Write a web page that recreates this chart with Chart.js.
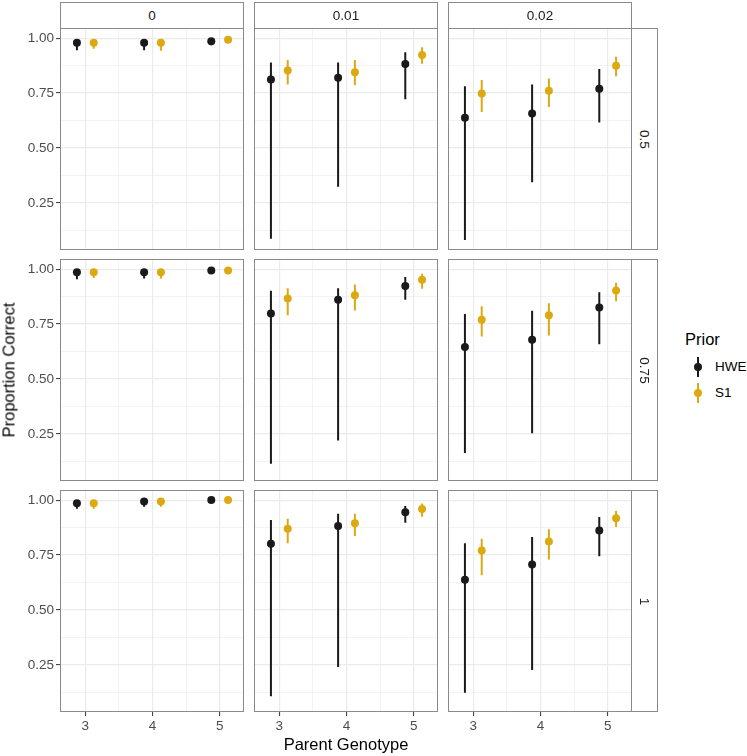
<!DOCTYPE html>
<html>
<head>
<meta charset="utf-8">
<script src="https://cdn.jsdelivr.net/npm/chart.js@4.4.1/dist/chart.umd.min.js"></script>
<style>
    body { margin: 0; background: #fff; font-family: "Liberation Sans", Arial, sans-serif; }
    #wrap { position: relative; width: 747px; height: 756px; background: #fff; overflow: hidden; }
    canvas { position: absolute; }
    .strip { position: absolute; box-sizing: border-box; border: 1px solid #8a8a8a; background: #fff;
             color: #1a1a1a; font-size: 13.5px; display: flex; align-items: center; justify-content: center; }
    .strip span.rot { transform: rotate(90deg); white-space: nowrap; }
    .label { position: absolute; white-space: nowrap; color: #000; }
</style>
</head>
<body>
<div id="wrap"></div>
<script>
// facet labels
const errorRates = ["0", "0.01", "0.02"];   // columns
const depthLabels = ["0.5", "0.75", "1"];   // rows
const genotypes = [3, 4, 5];
const yTickLabels = ["0.25", "0.50", "0.75", "1.00"];

// [row][col] -> values for genotypes 3, 4, 5
const hweMean = [
    [[0.979, 0.979, 0.986], [0.812, 0.819, 0.882], [0.637, 0.657, 0.769]],
    [[0.986, 0.986, 0.994], [0.798, 0.860, 0.923], [0.645, 0.678, 0.825]],
    [[0.986, 0.994, 1.000], [0.801, 0.882, 0.945], [0.637, 0.707, 0.862]]
];
const hweLower = [
    [[0.945, 0.945, 0.968], [0.086, 0.323, 0.721], [0.080, 0.343, 0.616]],
    [[0.954, 0.957, 0.982], [0.113, 0.220, 0.860], [0.162, 0.253, 0.658]],
    [[0.961, 0.970, 0.990], [0.107, 0.240, 0.897], [0.123, 0.226, 0.744]]
];
const hweUpper = [
    [[0.992, 0.992, 0.996], [0.889, 0.889, 0.935], [0.781, 0.789, 0.859]],
    [[0.996, 0.996, 1.000], [0.901, 0.913, 0.964], [0.796, 0.810, 0.895]],
    [[0.996, 1.000, 1.000], [0.909, 0.938, 0.973], [0.804, 0.832, 0.923]]
];
const s1Mean = [
    [[0.979, 0.979, 0.992], [0.853, 0.845, 0.923], [0.748, 0.760, 0.874]],
    [[0.986, 0.986, 0.994], [0.866, 0.881, 0.951], [0.769, 0.790, 0.903]],
    [[0.986, 0.994, 1.000], [0.870, 0.895, 0.959], [0.770, 0.812, 0.917]]
];
const s1Lower = [
    [[0.951, 0.942, 0.976], [0.789, 0.785, 0.883], [0.664, 0.686, 0.826]],
    [[0.960, 0.957, 0.985], [0.790, 0.812, 0.910], [0.693, 0.698, 0.854]],
    [[0.961, 0.970, 0.995], [0.804, 0.836, 0.924], [0.658, 0.730, 0.877]]
];
const s1Upper = [
    [[0.995, 0.993, 1.000], [0.900, 0.900, 0.958], [0.809, 0.816, 0.915]],
    [[0.996, 0.996, 1.000], [0.913, 0.930, 0.979], [0.831, 0.845, 0.938]],
    [[0.996, 1.000, 1.000], [0.915, 0.938, 0.985], [0.824, 0.867, 0.950]]
];

const hweColor = "#1a1a1a";
const s1Color = "#dcaa10";
const dodge = 0.125;

const colX = [60, 254, 448];
const rowY = [28, 259, 490];
const panelW = 184;
const panelH = 222;
const yAxisW = 60;
const xAxisH = 30;
const tickFont = { family: "'Liberation Sans', Arial, sans-serif", size: 13.5 };

const wrap = document.querySelector("#wrap");

const addDiv = (cls, text, style) => {
    const div = document.createElement("div");
    div.className = cls;
    div.innerHTML = text;
    Object.assign(div.style, style);
    wrap.appendChild(div);
    return div;
};

const panelBorder = {
    id: "panelBorder",
    afterDraw: (chart) => {
        const a = chart.chartArea;
        const ctx = chart.ctx;
        ctx.save();
        ctx.strokeStyle = "#8a8a8a";
        ctx.lineWidth = 1;
        ctx.strokeRect(a.left + 0.5, a.top + 0.5, a.right - a.left - 1, a.bottom - a.top - 1);
        ctx.restore();
    }
};

const errorData = (xs, lo, hi, off) => {
    const out = [];
    for (let i = 0; i < xs.length; i++) {
        out.push({ x: xs[i] + off, y: lo[i] });
        out.push({ x: xs[i] + off, y: hi[i] });
        out.push({ x: xs[i] + off, y: null });
    }
    return out;
};

const pointData = (xs, ys, off) => xs.map((x, i) => ({ x: x + off, y: ys[i] }));

const makePanel = (row, col) => {
    const showY = col === 0;
    const showX = row === 2;
    const canvas = document.createElement("canvas");
    const w = panelW + (showY ? yAxisW : 0);
    const h = panelH + (showX ? xAxisH : 0);
    canvas.width = w;
    canvas.height = h;
    canvas.style.left = (colX[col] - (showY ? yAxisW : 0)) + "px";
    canvas.style.top = rowY[row] + "px";
    wrap.appendChild(canvas);

    const xMajor = (v) => Number.isInteger(v);
    const yMajor = (v) => Math.abs(v * 4 - Math.round(v * 4)) < 1e-6;

    new Chart(canvas, {
        data: {
            datasets: [
                { type: "scatter", data: pointData(genotypes, s1Mean[row][col], dodge),
                  pointRadius: 4, backgroundColor: s1Color, borderWidth: 0, pointHoverRadius: 4 },
                { type: "line", data: errorData(genotypes, s1Lower[row][col], s1Upper[row][col], dodge),
                  borderColor: s1Color, borderWidth: 2, pointRadius: 0, spanGaps: false, fill: false },
                { type: "scatter", data: pointData(genotypes, hweMean[row][col], -dodge),
                  pointRadius: 4, backgroundColor: hweColor, borderWidth: 0, pointHoverRadius: 4 },
                { type: "line", data: errorData(genotypes, hweLower[row][col], hweUpper[row][col], -dodge),
                  borderColor: hweColor, borderWidth: 2, pointRadius: 0, spanGaps: false, fill: false }
            ]
        },
        options: {
            responsive: false,
            animation: false,
            devicePixelRatio: 1,
            clip: false,
            layout: { padding: 0, autoPadding: false },
            plugins: { legend: { display: false }, tooltip: { enabled: false } },
            scales: {
                x: {
                    type: "linear",
                    min: 2.623,
                    max: 5.362,
                    afterBuildTicks: (scale) => {
                        scale.ticks = [3, 3.5, 4, 4.5, 5].map((v) => ({ value: v }));
                    },
                    afterFit: (scale) => {
                        scale.height = showX ? xAxisH : 0;
                        scale.paddingLeft = 0;
                        scale.paddingRight = 0;
                    },
                    border: { display: false },
                    grid: {
                        color: "#ebebeb",
                        lineWidth: (ctx) => xMajor(ctx.tick.value) ? 1.2 : 0.6,
                        drawTicks: showX,
                        tickLength: 4,
                        tickColor: (ctx) => xMajor(ctx.tick.value) ? "#333333" : "rgba(0,0,0,0)",
                        tickWidth: 1
                    },
                    ticks: {
                        display: showX,
                        autoSkip: false,
                        maxRotation: 0,
                        padding: 2,
                        color: "#4d4d4d",
                        font: tickFont,
                        callback: (v) => xMajor(v) ? String(v) : ""
                    }
                },
                y: {
                    type: "linear",
                    min: 0.035,
                    max: 1.046,
                    afterBuildTicks: (scale) => {
                        scale.ticks = [0.125, 0.25, 0.375, 0.5, 0.625, 0.75, 0.875, 1].map((v) => ({ value: v }));
                    },
                    afterFit: (scale) => {
                        scale.width = showY ? yAxisW : 0;
                        scale.paddingTop = 0;
                        scale.paddingBottom = 0;
                    },
                    border: { display: false },
                    grid: {
                        color: "#ebebeb",
                        lineWidth: (ctx) => yMajor(ctx.tick.value) ? 1.2 : 0.6,
                        drawTicks: showY,
                        tickLength: 4,
                        tickColor: (ctx) => yMajor(ctx.tick.value) ? "#333333" : "rgba(0,0,0,0)",
                        tickWidth: 1
                    },
                    ticks: {
                        display: showY,
                        autoSkip: false,
                        padding: 2,
                        color: "#4d4d4d",
                        font: tickFont,
                        callback: (v) => yMajor(v) ? yTickLabels[Math.round(v * 4) - 1] : ""
                    }
                }
            }
        },
        plugins: [panelBorder]
    });
};

for (let r = 0; r < depthLabels.length; r++) {
    for (let c = 0; c < errorRates.length; c++) {
        makePanel(r, c);
    }
}

// strips
for (let c = 0; c < errorRates.length; c++) {
    addDiv("strip", errorRates[c], { left: colX[c] + "px", top: "2px", width: panelW + "px", height: "27px" });
}
for (let r = 0; r < depthLabels.length; r++) {
    addDiv("strip", `<span class="rot">${depthLabels[r]}</span>`,
        { left: "631px", top: rowY[r] + "px", width: "27px", height: panelH + "px" });
}

// axis titles
addDiv("label", "Proportion Correct", {
    left: "8.5px", top: "370px", fontSize: "16.5px",
    transform: "translate(-50%, -50%) rotate(-90deg)"
});
addDiv("label", "Parent Genotype", {
    left: "346px", top: "744px", fontSize: "16.5px",
    transform: "translate(-50%, -50%)"
});

// legend
addDiv("label", "Prior", { left: "685px", top: "330px", fontSize: "16.5px" });
const legendItems = [["HWE", hweColor, 367], ["S1", s1Color, 393]];
for (let item of legendItems) {
    addDiv("label", "", { left: "697px", top: (item[2] - 10) + "px", width: "2px", height: "20px", background: item[1] });
    addDiv("label", "", { left: "694px", top: (item[2] - 4) + "px", width: "8px", height: "8px", borderRadius: "50%", background: item[1] });
    addDiv("label", item[0], { left: "715px", top: (item[2] - 8) + "px", fontSize: "13.5px", color: "#000" });
}
</script>
</body>
</html>
